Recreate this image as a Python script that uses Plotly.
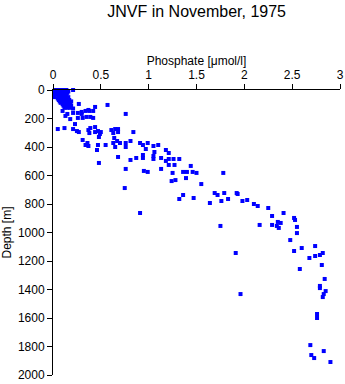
import plotly.graph_objects as go

title_text = "JNVF in November, 1975"
x_title = "Phosphate [\u03bcmol/l]"
y_title = "Depth [m]"

# Surface cluster (0-150 m)
surface_phosphate = [0.02, 0.04, 0.06, 0.08, 0.10, 0.12, 0.14, 0.21,
                     0.03, 0.05, 0.07, 0.09, 0.11, 0.13, 0.16,
                     0.02, 0.04, 0.06, 0.08, 0.10, 0.12, 0.15,
                     0.05, 0.07, 0.09, 0.11, 0.13,
                     0.01, 0.06, 0.08, 0.10, 0.12, 0.14,
                     0.02, 0.07, 0.09, 0.11, 0.13, 0.16,
                     0.05, 0.08, 0.10, 0.12, 0.15,
                     0.06, 0.09, 0.11, 0.13, 0.17,
                     0.07, 0.10, 0.12, 0.14, 0.19,
                     0.08, 0.11, 0.13, 0.15, 0.18,
                     0.10, 0.12, 0.14, 0.17, 0.27,
                     0.11, 0.13, 0.16, 0.19,
                     0.12, 0.15, 0.18, 0.21]
surface_depth = [0, 0, 0, 0, 0, 0, 0, 0,
                 10, 10, 10, 10, 10, 10, 10,
                 20, 20, 20, 20, 20, 20, 20,
                 30, 30, 30, 30, 30,
                 40, 40, 40, 40, 40, 40,
                 50, 50, 50, 50, 50, 50,
                 60, 60, 60, 60, 60,
                 70, 70, 70, 70, 70,
                 80, 80, 80, 80, 80,
                 90, 90, 90, 90, 90,
                 100, 100, 100, 100, 98,
                 110, 110, 110, 110,
                 125, 125, 125, 130]

# Deeper samples
deep_phosphate = [0.44, 0.57, 0.37, 0.38, 0.42, 0.30, 0.30, 0.26, 0.34, 0.21,
                  0.15, 0.13, 0.10, 0.18, 0.26, 0.31, 0.35, 0.39, 0.42, 0.76,
                  0.05, 0.12, 0.23, 0.21, 0.25, 0.27, 0.37, 0.38, 0.39, 0.44,
                  0.44, 0.47, 0.49, 0.50, 0.61, 0.65, 0.68, 0.63, 0.68, 0.84,
                  0.64, 0.67, 0.48, 0.31, 0.36, 0.34, 0.37, 0.47, 0.55, 0.46,
                  0.63, 0.65, 0.70, 0.76, 0.76, 0.81, 0.91, 0.94, 0.99, 1.05,
                  1.10, 0.97, 1.06, 0.94, 0.94, 1.05, 1.05, 1.13, 1.18, 1.21,
                  1.18, 1.21, 1.26, 1.32, 1.21, 1.27, 1.44, 0.48, 0.68, 0.81,
                  0.87, 0.76, 0.95, 0.99, 1.13, 1.25, 1.36, 1.40, 1.46, 1.50,
                  1.39, 1.24, 1.28, 1.55, 1.78, 1.69, 1.72, 1.79, 1.92, 1.93,
                  1.83, 1.76, 1.64, 1.98, 2.03, 1.36, 1.32, 1.47, 0.75, 0.91,
                  1.75, 2.10, 2.14, 2.25, 2.29, 2.41, 2.52, 2.53, 2.16, 2.29,
                  2.35, 2.38, 2.34, 2.36, 2.55, 2.55, 2.48, 1.91, 2.52, 2.60,
                  2.74, 2.68, 2.74, 2.79, 2.82, 2.81, 2.58, 2.84, 2.79, 2.79,
                  2.85, 2.83, 2.82, 1.96, 2.76, 2.76, 2.69, 2.83, 2.70, 2.73,
                  2.90]
deep_depth = [119, 105, 140, 147, 147, 154, 168, 161, 147, 161,
              168, 182, 147, 204, 196, 196, 189, 189, 196, 168,
              274, 267, 239, 274, 288, 295, 281, 302, 267, 260,
              295, 288, 309, 295, 281, 274, 274, 302, 295, 295,
              337, 358, 330, 351, 372, 386, 393, 386, 386, 421,
              372, 400, 372, 372, 400, 358, 372, 386, 372, 393,
              386, 414, 435, 456, 477, 463, 484, 477, 421, 442,
              498, 484, 484, 484, 526, 526, 533, 512, 470, 491,
              477, 554, 568, 575, 554, 582, 575, 575, 575, 582,
              618, 639, 632, 660, 582, 723, 737, 723, 723, 730,
              765, 779, 793, 779, 772, 737, 765, 758, 688, 863,
              954, 800, 814, 828, 884, 863, 898, 912, 947, 947,
              926, 933, 954, 968, 961, 1004, 1053, 1144, 1130, 1109,
              1095, 1179, 1165, 1158, 1144, 1228, 1256, 1326, 1375, 1390,
              1411, 1432, 1453, 1432, 1572, 1600, 1790, 1832, 1860, 1881,
              1909]

x_ticks = [0, 0.5, 1, 1.5, 2, 2.5, 3]
x_tick_labels = ["0", "0.5", "1", "1.5", "2", "2.5", "3"]
y_ticks = [0, 200, 400, 600, 800, 1000, 1200, 1400, 1600, 1800, 2000]

phosphate = surface_phosphate + deep_phosphate
depth = surface_depth + deep_depth

font_family = "Liberation Sans, Arial, sans-serif"

fig = go.Figure()
fig.add_trace(go.Scatter(
    x=phosphate, y=depth, mode="markers",
    marker=dict(symbol="square", size=4, color="#0000ff", line=dict(width=0)),
    showlegend=False, cliponaxis=False,
))

fig.update_layout(
    width=345, height=384,
    margin=dict(l=53, r=5, t=90, b=9),
    paper_bgcolor="white", plot_bgcolor="white",
    font=dict(family=font_family, size=12, color="black"),
    title=dict(text=title_text, x=0.57, xanchor="center", y=0.985, yanchor="top",
               font=dict(size=16, family=font_family, color="black")),
    xaxis=dict(
        side="top", range=[0, 3], tickvals=x_ticks, ticktext=x_tick_labels,
        showgrid=False, zeroline=False, showline=True, linecolor="black", linewidth=1,
        ticks="outside", ticklen=5, tickcolor="black", tickwidth=1,
        title=dict(text=x_title, standoff=0, font=dict(size=12)),
        tickfont=dict(size=12), automargin=False,
    ),
    yaxis=dict(
        range=[2000, 0], tickvals=y_ticks,
        showgrid=False, zeroline=False, showline=True, linecolor="black", linewidth=1,
        ticks="outside", ticklen=5, tickcolor="black", tickwidth=1,
        title=dict(text=y_title, standoff=4, font=dict(size=12)),
        tickfont=dict(size=12), automargin=False,
    ),
)

fig.write_html("out.html")
